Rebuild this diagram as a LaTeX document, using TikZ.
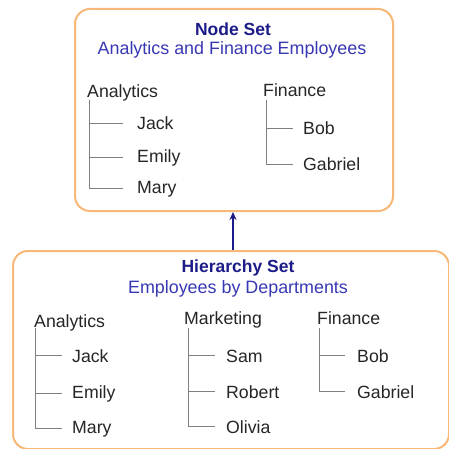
\documentclass[tikz,border=0pt]{standalone}
\usepackage{fontspec}
\setmainfont{Liberation Sans}
\usetikzlibrary{arrows.meta,calc}
\definecolor{boxorange}{HTML}{F8B878}
\definecolor{titleblue}{HTML}{1C1C88}
\definecolor{subblue}{HTML}{3838B4}
\definecolor{treegray}{HTML}{808080}
\definecolor{txtgray}{HTML}{262626}
\begin{document}
\begin{tikzpicture}[x=1pt,y=-1pt,
  setbox/.style={draw=boxorange,line width=2pt,rounded corners=15pt,fill=white,inner sep=0pt},
  ttl/.style={inner sep=0pt,anchor=base,text=titleblue,font=\fontsize{17.5}{20}\selectfont\bfseries},
  sub/.style={inner sep=0pt,anchor=base,text=subblue,font=\fontsize{17.9}{20}\selectfont},
  dept/.style={inner sep=0pt,anchor=base west,text=txtgray,font=\fontsize{17.7}{20}\selectfont},
  emp/.style={inner sep=0pt,anchor=base west,text=txtgray,font=\fontsize{17.7}{20}\selectfont},
  tree/.style={draw=treegray,line width=0.9pt},
  link/.style={draw=titleblue,line width=1.5pt,-{Stealth[length=8pt,width=7pt]}}]
\useasboundingbox (0,0) rectangle (448,449);
% boxes
\node[setbox,minimum width=318pt,minimum height=202pt] (nbox) at (234,110) {};
\node[setbox,minimum width=436pt,minimum height=198pt] (hbox) at (231,350) {};
% top box texts
\node[ttl] (ntitle) at (233,36) {Node Set};
\node[sub] (nsub) at (232,55) {Analytics and Finance Employees};
\node[dept] (na) at (87,98) {Analytics};
\node[emp] (na1) at (137,130) {Jack};
\node[emp] (na2) at (137,162) {Emily};
\node[emp] (na3) at (137,193) {Mary};
\node[dept] (nf) at (263,97) {Finance};
\node[emp] (nf1) at (303,135) {Bob};
\node[emp] (nf2) at (303,171) {Gabriel};
\coordinate (nat) at (89,100);
\coordinate (nft) at (266,100);
\draw[tree] (nat) |- ($(na1.west)+(-14,0)$);
\draw[tree] (nat) |- ($(na2.west)+(-14,0)$);
\draw[tree] (nat) |- ($(na3.west)+(-14,0)$);
\draw[tree] (nft) |- ($(nf1.west)+(-10,0)$);
\draw[tree] (nft) |- ($(nf2.west)+(-10,0)$);
% bottom box texts
\node[ttl] (htitle) at (238,272) {Hierarchy Set};
\node[sub] (hsub) at (238,293) {Employees by Departments};
\node[dept] (ha) at (34,327) {Analytics};
\node[emp] (ha1) at (72,362) {Jack};
\node[emp] (ha2) at (72,398) {Emily};
\node[emp] (ha3) at (72,433) {Mary};
\node[dept] (hm) at (184,324) {Marketing};
\node[emp] (hm1) at (226,362) {Sam};
\node[emp] (hm2) at (226,398) {Robert};
\node[emp] (hm3) at (226,433) {Olivia};
\node[dept] (hf) at (317,324) {Finance};
\node[emp] (hf1) at (357,362) {Bob};
\node[emp] (hf2) at (357,398) {Gabriel};
\coordinate (hat) at (35,328);
\coordinate (hmt) at (188,328);
\coordinate (hft) at (319,328);
\draw[tree] (hat) |- ($(ha1.west)+(-10,0)$);
\draw[tree] (hat) |- ($(ha2.west)+(-10,0)$);
\draw[tree] (hat) |- ($(ha3.west)+(-10,0)$);
\draw[tree] (hmt) |- ($(hm1.west)+(-11,0)$);
\draw[tree] (hmt) |- ($(hm2.west)+(-11,0)$);
\draw[tree] (hmt) |- ($(hm3.west)+(-11,0)$);
\draw[tree] (hft) |- ($(hf1.west)+(-12,0)$);
\draw[tree] (hft) |- ($(hf2.west)+(-12,0)$);
% connector
\draw[link] (hbox.north -| 233,0) -- (nbox.south -| 233,0);
\end{tikzpicture}
\end{document}
